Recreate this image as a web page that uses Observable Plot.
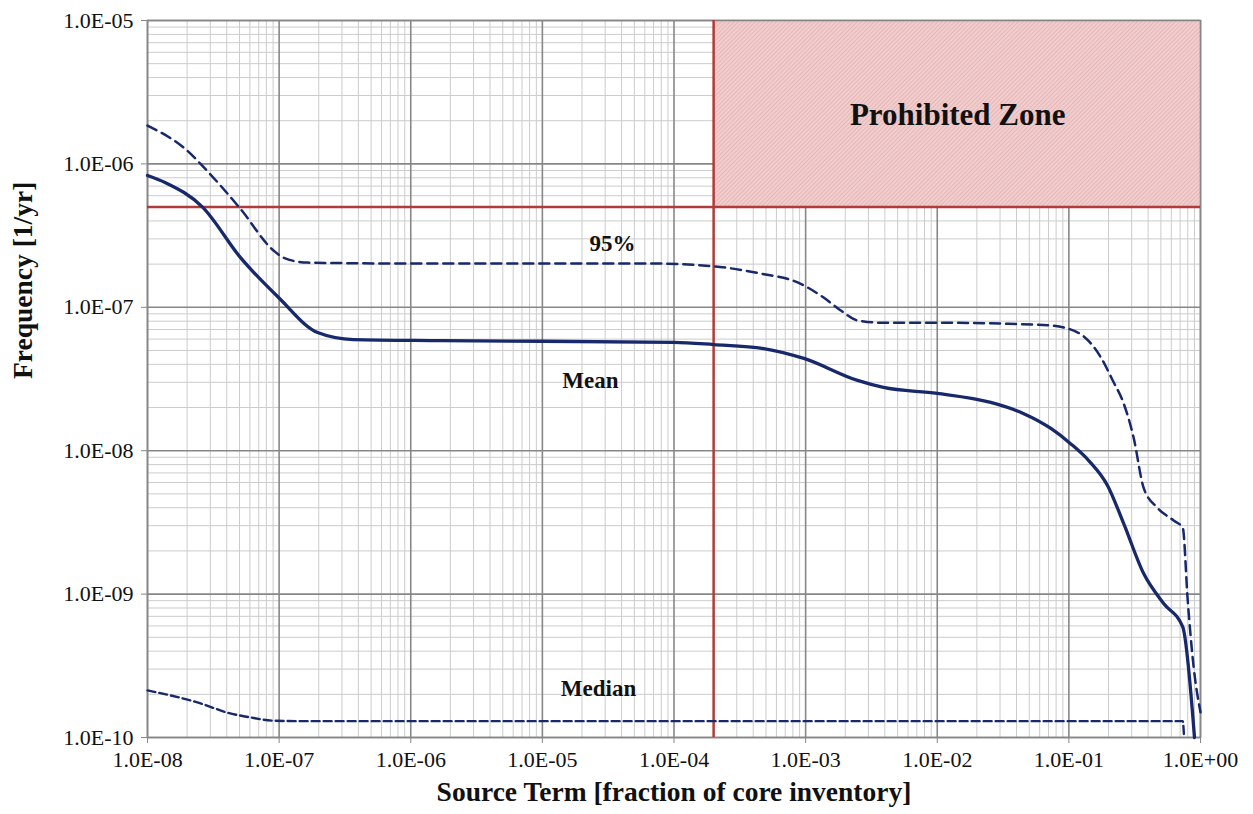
<!DOCTYPE html>
<html>
<head>
<meta charset="utf-8">
<script src="https://cdn.jsdelivr.net/npm/d3@7"></script>
<script src="https://cdn.jsdelivr.net/npm/@observablehq/plot@0.6"></script>
<style>
  body { margin: 0; background: #fff; }
  #chart svg { font-family: "Liberation Serif", "Times New Roman", serif; }
</style>
</head>
<body>
<div id="chart"></div>
<script>
// ---- data ----
const xTicks = [1e-8, 1e-7, 1e-6, 1e-5, 1e-4, 1e-3, 1e-2, 1e-1, 1];
const xTickLabels = ["1.0E-08","1.0E-07","1.0E-06","1.0E-05","1.0E-04","1.0E-03","1.0E-02","1.0E-01","1.0E+00"];
const yTicks = [1e-10, 1e-9, 1e-8, 1e-7, 1e-6, 1e-5];
const yTickLabels = ["1.0E-10","1.0E-09","1.0E-08","1.0E-07","1.0E-06","1.0E-05"];

const meanX = [1e-8,1.37e-8,2.62e-8,5.09e-8,9.9e-8,1.96e-7,3.67e-7,1.7e-6,1e-4,2e-4,4.8e-4,9.7e-4,2.48e-3,3.9e-3,1e-2,2.55e-2,4.5e-2,7.3e-2,0.103,0.142,0.197,0.261,0.37,0.525,0.733,0.90];
const meanY = [8.3e-7,7.4e-7,5.0e-7,2.22e-7,1.17e-7,6.67e-8,5.96e-8,5.86e-8,5.7e-8,5.5e-8,5.16e-8,4.4e-8,3.09e-8,2.76e-8,2.51e-8,2.17e-8,1.82e-8,1.43e-8,1.12e-8,8.5e-9,5.7e-9,3.1e-9,1.39e-9,8.6e-10,5.9e-10,1e-10];

const p95X = [1e-8,2.12e-8,2.53e-8,5.09e-8,9.06e-8,1.08e-7,1.64e-7,1e-6,6.6e-5,2e-4,4.55e-4,8.7e-4,1.37e-3,1.85e-3,2.48e-3,3.9e-3,1e-2,3e-2,7.3e-2,0.117,0.175,0.215,0.261,0.31,0.37,0.47,0.625,0.733,0.80,0.887,1.0];
const p95Y = [1.85e-6,1.18e-6,1.0e-6,4.85e-7,2.49e-7,2.22e-7,2.05e-7,2.02e-7,2.02e-7,1.93e-7,1.72e-7,1.49e-7,1.17e-7,9.5e-8,8.1e-8,7.8e-8,7.8e-8,7.7e-8,7.46e-8,6.67e-8,4.47e-8,3.1e-8,2.13e-8,1.24e-8,5.5e-9,4.0e-9,3.26e-9,2.9e-9,9.0e-10,3.1e-10,1.5e-10];

const medianX = [1e-8,2.53e-8,4.05e-8,6.07e-8,9.06e-8,1.5e-7,0.733,0.75];
const medianY = [2.13e-10,1.73e-10,1.49e-10,1.38e-10,1.31e-10,1.3e-10,1.3e-10,1e-10];

const limitX = 2e-4;
const limitY = 5e-7;
const zoneX = [2e-4, 1];
const zoneY = [5e-7, 1e-5];

const labelTexts = ["95%", "Mean", "Median"];
const labelX = [3.41e-5, 2.32e-5, 2.67e-5];
const labelY = [2.79e-7, 3.09e-8, 2.2e-10];
const zoneLabel = "Prohibited Zone";
const zoneLabelPos = [1.43e-2, 2.18e-6];

const xTitle = "Source Term [fraction of core inventory]";
const yTitle = "Frequency [1/yr]";

// ---- derived tables ----
const toRows = (xs, ys) => xs.map((x, i) => ({x, y: ys[i]}));
const mean = toRows(meanX, meanY);
const p95 = toRows(p95X, p95Y);
const median = toRows(medianX, medianY);
const labels = labelTexts.map((t, i) => ({t, x: labelX[i], y: labelY[i]}));
const xLabelMap = new Map(xTicks.map((v, i) => [v, xTickLabels[i]]));
const yLabelMap = new Map(yTicks.map((v, i) => [v, yTickLabels[i]]));

const minorX = [];
for (let e = -8; e < 0; e++) for (let k = 2; k <= 9; k++) minorX.push(k * Math.pow(10, e));
const minorY = [];
for (let e = -10; e < -5; e++) for (let k = 2; k <= 9; k++) minorY.push(k * Math.pow(10, e));

const navy = "#17286b";
const red = "#b23a3a";

const chart = Plot.plot({
  width: 1253,
  height: 814,
  marginLeft: 147,
  marginRight: 53,
  marginTop: 20,
  marginBottom: 77,
  x: {type: "log", domain: [1e-8, 1]},
  y: {type: "log", domain: [1e-10, 1e-5]},
  marks: [
    Plot.ruleX(minorX, {stroke: "#cccccc", strokeWidth: 1}),
    Plot.ruleY(minorY, {stroke: "#cccccc", strokeWidth: 1}),
    Plot.ruleX(xTicks, {stroke: "#878787", strokeWidth: 1.6}),
    Plot.ruleY(yTicks, {stroke: "#878787", strokeWidth: 1.6}),
    Plot.rect([{x1: zoneX[0], x2: zoneX[1], y1: zoneY[0], y2: zoneY[1]}],
      {x1: "x1", x2: "x2", y1: "y1", y2: "y2", fill: "url(#hatch)"}),
    Plot.frame({stroke: "#878787", strokeWidth: 1.6}),
    Plot.ruleX([limitX], {stroke: red, strokeWidth: 2.5}),
    Plot.ruleY([limitY], {stroke: red, strokeWidth: 2.5}),
    Plot.axisX(xTicks, {tickFormat: d => xLabelMap.get(d), tickSize: 6, stroke: "#878787", fontSize: 22, tickPadding: 8, label: null, fill: "#111"}),
    Plot.axisY(yTicks, {tickFormat: d => yLabelMap.get(d), tickSize: 6, stroke: "#878787", fontSize: 22, tickPadding: 8, label: null, fill: "#111"}),
    Plot.line(median, {x: "x", y: "y", stroke: navy, strokeWidth: 2.4, strokeDasharray: "8,4", curve: "monotone-x"}),
    Plot.line(p95, {x: "x", y: "y", stroke: navy, strokeWidth: 2.5, strokeDasharray: "10,6", curve: "monotone-x"}),
    Plot.line(mean, {x: "x", y: "y", stroke: navy, strokeWidth: 3.3, curve: "monotone-x"}),
    Plot.text(labels, {x: "x", y: "y", text: "t", fontSize: 23, fontWeight: "bold", fill: "#111"}),
    Plot.text([zoneLabel], {x: () => zoneLabelPos[0], y: () => zoneLabelPos[1], text: d => d, fontSize: 31, fontWeight: "bold", fill: "#111"}),
    Plot.text([xTitle], {frameAnchor: "bottom", dy: 63, text: d => d, fontSize: 27.5, fontWeight: "bold", fill: "#111"}),
    Plot.text([yTitle], {frameAnchor: "left", dx: -124, rotate: -90, text: d => d, fontSize: 27.5, fontWeight: "bold", fill: "#111"})
  ]
});

// hatch pattern for the prohibited zone
const svg = d3.select(chart);
const defs = svg.insert("defs", ":first-child");
const pat = defs.append("pattern").attr("id", "hatch").attr("patternUnits", "userSpaceOnUse")
  .attr("width", 3).attr("height", 3).attr("patternTransform", "rotate(45)");
pat.append("rect").attr("width", 3).attr("height", 3).attr("fill", "#f2cdcd");
pat.append("line").attr("x1", 0).attr("y1", 0).attr("x2", 0).attr("y2", 3).attr("stroke", "#d9a3a3").attr("stroke-width", 1);

document.getElementById("chart").appendChild(chart);
</script>
</body>
</html>
